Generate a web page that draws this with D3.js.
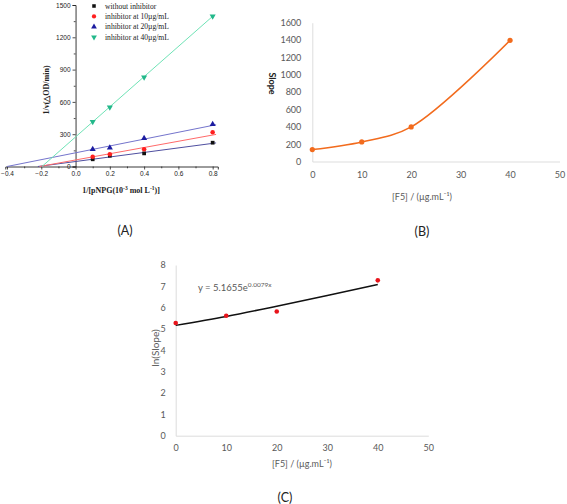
<!DOCTYPE html>
<html><head><meta charset="utf-8">
<script src="https://cdn.jsdelivr.net/npm/d3@7"></script>
<style>html,body{margin:0;padding:0;background:#fff;}svg{display:block;}</style>
</head><body>
<svg id="c" width="567" height="504"></svg>
<script>
// ---------- Panel A data (Lineweaver-Burk) ----------
const invS = [0.1, 0.2, 0.4, 0.8];
const seriesNames = ["without inhibitor", "inhibitor at 10\u00b5g/mL", "inhibitor at 20\u00b5g/mL", "inhibitor at 40\u00b5g/mL"];
const vNone = [67, 100, 122, 221];
const v10 = [91, 113, 160, 318];
const v20 = [160, 175, 262, 392];
const v40 = [415, 550, 830, 1395];
// fitted straight lines: start x (on y=0), end x, end y
const fitStartX = [-0.22, -0.21, -0.40, -0.196];
const fitEndX = [0.82, 0.82, 0.82, 0.80];
const fitEndY = [219, 298, 388, 1395];
const aXTicks = [-0.4, -0.2, 0.0, 0.2, 0.4, 0.6, 0.8];
const aYTicks = [0, 300, 600, 900, 1200, 1500];

// ---------- Panel B data ----------
const conc = [0, 10, 20, 40];
const slope = [138, 226, 399, 1397];
const bXTicks = [0, 10, 20, 30, 40, 50];
const bYTicks = [0, 200, 400, 600, 800, 1000, 1200, 1400, 1600];

// ---------- Panel C data ----------
const lnSlope = [5.28, 5.62, 5.82, 7.28];
const trendX = [0, 10, 20, 30, 40];
const trendY = [5.17, 5.59, 6.07, 6.57, 7.09];
const cXTicks = [0, 10, 20, 30, 40, 50];
const cYTicks = [0, 1, 2, 3, 4, 5, 6, 7, 8];

const svg = d3.select("#c");
svg.append("rect").attr("width", 567).attr("height", 504).attr("fill", "#fff");
const intFmt = d3.format("d");

// ===== Panel A =====
(function () {
  const g = svg.append("g");
  const x = d3.scaleLinear().domain([-0.41, 0.83]).range([5.3, 217.8]);
  const y = d3.scaleLinear().domain([0, 1500]).range([166.5, 5]);
  const serif = "'Liberation Serif','Times New Roman',serif";
  const sans = "'Liberation Sans',Arial,sans-serif";

  const xMinor = [-0.3, -0.1, 0.1, 0.3, 0.5, 0.7];
  const yMinor = [150, 450, 750, 1050, 1350];
  const xa = g.append("g").attr("transform", `translate(0,${y(0)})`)
    .call(d3.axisBottom(x).tickValues(aXTicks).tickSize(3).tickPadding(2).tickFormat(d3.format(".1f")));
  g.append("g").attr("transform", `translate(0,${y(0)})`)
    .call(d3.axisBottom(x).tickValues(xMinor).tickSize(1.8).tickFormat(""))
    .select(".domain").remove();
  const ya = g.append("g").attr("transform", `translate(${x(0)},0)`)
    .call(d3.axisLeft(y).tickValues(aYTicks).tickSize(3).tickPadding(2).tickFormat(intFmt));
  g.append("g").attr("transform", `translate(${x(0)},0)`)
    .call(d3.axisLeft(y).tickValues(yMinor).tickSize(1.8).tickFormat(""))
    .select(".domain").remove();
  g.selectAll(".domain").attr("stroke", "#222").attr("stroke-width", 0.9);
  g.selectAll(".tick line").attr("stroke", "#222").attr("stroke-width", 0.8);
  [xa, ya].forEach(a => a.selectAll("text").attr("font-family", sans).attr("font-size", 6.5).attr("fill", "#222"));
  ya.selectAll("text").attr("dy", "0.35em");

  const lineColors = ["#4f4fa0", "#ff6a6a", "#7474cc", "#6fe3b6"];
  const markColors = ["#111", "#ff1f1f", "#1c1ca0", "#22b88a"];
  const symbols = [d3.symbolSquare, d3.symbolCircle, d3.symbolTriangle, d3.symbolTriangle];
  const sizes = [14, 16, 16, 16];
  const vals = [vNone, v10, v20, v40];

  for (let i = 0; i < 4; i++) {
    g.append("line")
      .attr("x1", x(fitStartX[i])).attr("y1", y(0))
      .attr("x2", x(fitEndX[i])).attr("y2", y(fitEndY[i]))
      .attr("stroke", lineColors[i]).attr("stroke-width", 1);
  }
  for (let i = 0; i < 4; i++) {
    g.append("g").selectAll("path").data(invS.map((d, j) => [d, vals[i][j]])).join("path")
      .attr("d", d3.symbol(symbols[i], sizes[i]))
      .attr("transform", d => `translate(${x(d[0])},${y(d[1])})${i === 3 ? " rotate(180)" : ""}`)
      .attr("fill", markColors[i]);
  }
  const lg = g.append("g");
  seriesNames.forEach((n, i) => {
    const yy = 6 + i * 10.4;
    lg.append("path").attr("d", d3.symbol(symbols[i], sizes[i] * 0.9)())
      .attr("transform", `translate(94,${yy})${i === 3 ? " rotate(180)" : ""}`).attr("fill", markColors[i]);
    lg.append("text").attr("x", 105).attr("y", yy).attr("dy", "0.35em")
      .attr("font-family", serif).attr("font-size", 7.6).attr("fill", "#222").text(n);
  });
  const xt = g.append("text").attr("x", 121).attr("y", 193).attr("text-anchor", "middle")
    .attr("font-family", serif).attr("font-size", 8).attr("font-weight", "bold").attr("fill", "#222");
  xt.append("tspan").text("1/[pNPG(10");
  xt.append("tspan").attr("dy", -3).attr("font-size", 5.5).text("-3");
  xt.append("tspan").attr("dy", 3).text(" mol L");
  xt.append("tspan").attr("dy", -3).attr("font-size", 5.5).text("-1");
  xt.append("tspan").attr("dy", 3).text(")]");
  g.append("text").attr("transform", "translate(49,90) rotate(-90)").attr("text-anchor", "middle")
    .attr("font-family", serif).attr("font-size", 8).attr("font-weight", "bold").attr("fill", "#222")
    .text("1/v(\u25b3OD/min)");
  g.append("text").attr("x", 125).attr("y", 234.5).attr("text-anchor", "middle")
    .attr("font-family", "Lato,'Open Sans',sans-serif").attr("font-size", 12.5).attr("fill", "#222").text("(A)");
})();

const lato = "Lato,'Open Sans',sans-serif";

// ===== Panel B =====
(function () {
  const g = svg.append("g");
  const x = d3.scaleLinear().domain([0, 50]).range([312.3, 559.5]);
  const y = d3.scaleLinear().domain([0, 1600]).range([161.5, 22.7]);
  g.append("g").attr("transform", `translate(0,${y(0)})`)
    .call(d3.axisBottom(x).tickValues(bXTicks).tickSize(0).tickPadding(10).tickFormat(intFmt));
  g.append("g").attr("transform", `translate(${x(0)},0)`)
    .call(d3.axisLeft(y).tickValues(bYTicks).tickSize(0).tickPadding(11).tickFormat(intFmt));
  g.selectAll(".domain").attr("stroke", "#d9d9d9").attr("stroke-width", 0.9);
  g.selectAll("text").attr("font-family", lato).attr("font-size", 9).attr("fill", "#595959");
  const pts = conc.map((c, i) => [c, slope[i]]);
  g.append("path").datum(pts)
    .attr("d", d3.line().x(d => x(d[0])).y(d => y(d[1])).curve(d3.curveCatmullRom.alpha(0.5)))
    .attr("fill", "none").attr("stroke", "#f26b1d").attr("stroke-width", 1.5);
  g.append("g").selectAll("circle").data(pts).join("circle")
    .attr("cx", d => x(d[0])).attr("cy", d => y(d[1])).attr("r", 2.6).attr("fill", "#f26b1d");
  g.append("text").attr("transform", "translate(272,83.5) rotate(90)").attr("text-anchor", "middle")
    .attr("dy", "0.35em").attr("font-family", lato).attr("font-size", 9).attr("font-weight", "bold")
    .attr("fill", "#222").text("Slope");
  g.append("text").attr("x", 422).attr("y", 200).attr("text-anchor", "middle")
    .attr("font-family", lato).attr("font-size", 9).attr("fill", "#595959").text("[F5] / (\u00b5g.mL\u207b\u00b9)");
  g.append("text").attr("x", 422).attr("y", 235.5).attr("text-anchor", "middle")
    .attr("font-family", lato).attr("font-size", 12.5).attr("fill", "#222").text("(B)");
})();

// ===== Panel C =====
(function () {
  const g = svg.append("g");
  const x = d3.scaleLinear().domain([0, 50]).range([175.7, 428.3]);
  const y = d3.scaleLinear().domain([0, 8]).range([435.7, 265]);
  g.append("g").attr("transform", `translate(0,${y(0)})`)
    .call(d3.axisBottom(x).tickValues(cXTicks).tickSize(0).tickPadding(9).tickFormat(intFmt));
  g.append("g").attr("transform", `translate(${x(0)},0)`)
    .call(d3.axisLeft(y).tickValues(cYTicks).tickSize(0).tickPadding(10).tickFormat(intFmt));
  g.selectAll(".domain").attr("stroke", "#d9d9d9").attr("stroke-width", 0.9);
  g.selectAll("text").attr("font-family", lato).attr("font-size", 9).attr("fill", "#595959");
  g.append("path").datum(trendX.map((d, i) => [d, trendY[i]]))
    .attr("d", d3.line().x(d => x(d[0])).y(d => y(d[1])).curve(d3.curveMonotoneX))
    .attr("fill", "none").attr("stroke", "#111").attr("stroke-width", 1.5);
  g.append("g").selectAll("circle").data(conc.map((c, i) => [c, lnSlope[i]])).join("circle")
    .attr("cx", d => x(d[0])).attr("cy", d => y(d[1])).attr("r", 2.3).attr("fill", "#e8141b");
  const eq = g.append("text").attr("x", 198).attr("y", 291)
    .attr("font-family", lato).attr("font-size", 9.5).attr("fill", "#595959");
  eq.append("tspan").text("y = 5.1655e");
  eq.append("tspan").attr("dy", -4).attr("font-size", 6.5).text("0.0079x");
  g.append("text").attr("transform", "translate(155,348) rotate(-90)").attr("text-anchor", "middle")
    .attr("dy", "0.35em").attr("font-family", lato).attr("font-size", 10).attr("fill", "#595959").text("ln(Slope)");
  g.append("text").attr("x", 302).attr("y", 466.5).attr("text-anchor", "middle")
    .attr("font-family", lato).attr("font-size", 9).attr("fill", "#595959").text("[F5] / (\u00b5g.mL\u207b\u00b9)");
  g.append("text").attr("x", 285).attr("y", 502).attr("text-anchor", "middle")
    .attr("font-family", lato).attr("font-size", 12.5).attr("fill", "#222").text("(C)");
})();
</script>
</body></html>
